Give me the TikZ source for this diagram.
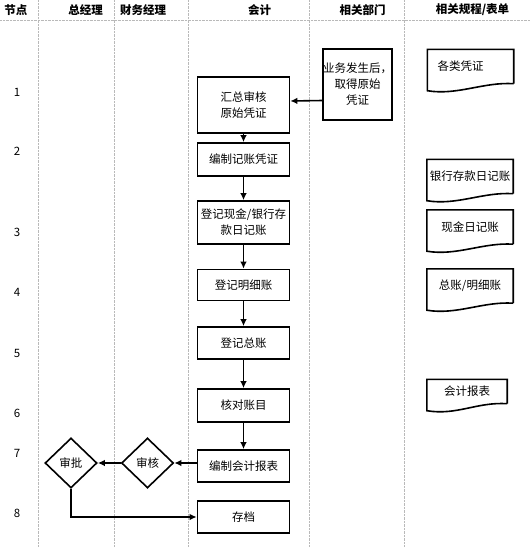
\documentclass[tikz,border=0pt]{standalone}
\usepackage{fontspec}
\setmainfont{Noto Sans CJK SC}
\usetikzlibrary{shapes.geometric,arrows.meta}

\begin{document}
\begin{tikzpicture}[x=1pt,y=-1pt,
	font=\fontsize{11.5}{16}\selectfont,
	box/.style={draw,line width=1.6pt,minimum width=92pt,minimum height=32pt,align=center,inner sep=1pt},
	decide/.style={draw,line width=1.6pt,diamond,aspect=1,minimum width=52pt,minimum height=50pt,inner sep=0pt},
	docbox/.style={minimum width=86pt,minimum height=34pt,inner sep=0pt},
	head/.style={font=\fontsize{11.5}{14}\selectfont\bfseries},
	arr/.style={line width=1.6pt,-{Latex[length=7pt,width=6.5pt]}},
	lane/.style={gray!55,densely dotted}]
	\useasboundingbox (0,0) rectangle (530,547);
	% Bahnen
	\foreach \x in {38.6,114,187.7,309.4,404}
		\draw[lane] (\x,0) -- (\x,547);
	\draw[lane] (0,20) -- (530,20);
	\node[head] (hNode) at (16,10) {节点};
	\node[head] (hGm) at (85.5,10) {总经理};
	\node[head] (hFm) at (143,10) {财务经理};
	\node[head] (hAcc) at (259.5,10) {会计};
	\node[head] (hDept) at (362.5,10) {相关部门};
	\node[head] (hForm) at (472.5,10) {相关规程/表单};
	\foreach \n/\y in {1/92,2/151,3/232,4/292,5/353,6/413,7/453,8/513}
		\node (r\n) at (17,\y) {\n};
	% Ablauf
	\node[box,minimum width=69pt,minimum height=71pt,inner sep=0pt] (yw) at (357.5,84.5) {业务发生后，\\取得原始\\凭证};
	\node[box,minimum height=56pt] (hz) at (243.5,105) {汇总审核\\原始凭证};
	\node[box,minimum height=33pt] (bz) at (243.5,159.5) {编制记账凭证};
	\node[box,minimum height=43pt] (dj) at (243.5,222.5) {登记现金/银行存\\款日记账};
	\node[box,minimum height=31pt] (mx) at (243.5,285) {登记明细账};
	\node[box] (zz) at (243.5,343) {登记总账};
	\node[box,minimum height=33pt] (hd) at (243.5,405.5) {核对账目};
	\node[box] (bb) at (243.5,466) {编制会计报表};
	\node[box] (cd) at (243.5,517) {存档};
	\node[decide] (sh) at (147.5,463) {审核};
	\node[decide] (sp) at (71,463) {审批};
	\draw[arr] ([yshift=-16pt]yw.west) -- ([yshift=4pt]hz.east);
	\foreach \a/\b in {hz/bz,bz/dj,dj/mx,mx/zz,zz/hd,hd/bb}
		\draw[arr] (\a.south) -- (\b.north);
	\draw[arr] (bb.west |- sh.east) -- (sh.east);
	\draw[arr] (sh.west) -- (sp.east);
	\draw[arr] (sp.south) |- (cd.west);
	% Belege
	\node[docbox] (gl) at (470.5,66.5) {各类凭证\hspace*{20pt}};
	\node[docbox] (yh) at (470,176.5) {银行存款日记账};
	\node[docbox] (xj) at (470,227) {现金日记账};
	\node[docbox] (zm) at (470,286) {总账/明细账};
	\node[docbox,minimum width=80pt,minimum height=24pt] (kb) at (467,391.5) {会计报表};
	\foreach \d in {gl,yh,xj,zm,kb}
		\draw[line width=1.6pt] (\d.south east) -- (\d.north east) -- (\d.north west) -- ([yshift=-7pt]\d.south west)
			.. controls ([xshift=30pt,yshift=-12pt]\d.south west) and ([xshift=-30pt,yshift=2pt]\d.south east) .. (\d.south east);
\end{tikzpicture}
\end{document}
